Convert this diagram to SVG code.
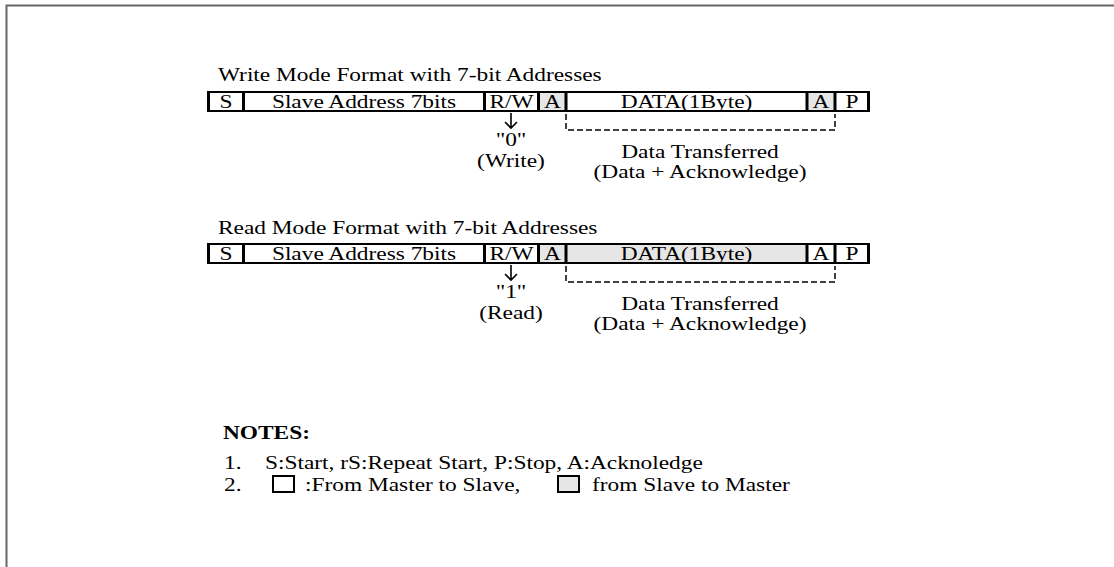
<svg xmlns="http://www.w3.org/2000/svg" width="1114" height="567" viewBox="0 0 1114 567">
<style>
text{font-family:"Liberation Serif","Times New Roman",serif;font-size:19px;fill:#000}
.c{text-anchor:middle}
.f{fill:#fff}
.g{fill:#e6e6e6}
.hl{fill:none;stroke:#000;stroke-width:2}
.vl{fill:none;stroke:#000;stroke-width:3}
.br{fill:none;stroke:#000;stroke-width:1.5;stroke-dasharray:6 3}
.ar{fill:none;stroke:#000;stroke-width:1.6}
.b{font-weight:bold}
</style>
<rect width="1114" height="567" fill="#fff"/>
<path d="M6.5,567 V5.5 H1114" fill="none" stroke="#666" stroke-width="2"/>

<g id="write">
<text transform="translate(218,81) scale(1.23,1)">Write Mode Format with 7-bit Addresses</text>
<g id="w-S"><rect class="f" x="208" y="92" width="35" height="19"/><text class="c" transform="translate(226,108) scale(1.23,1)">S</text></g>
<g id="w-addr"><rect class="f" x="243" y="92" width="241" height="19"/><text class="c" transform="translate(364,108) scale(1.23,1)">Slave Address 7bits</text></g>
<g id="w-rw"><rect class="f" x="484" y="92" width="54" height="19"/><text class="c" transform="translate(511.5,108) scale(1.23,1)">R/W</text></g>
<g id="w-A1"><rect class="g" x="538" y="92" width="28" height="19"/><text class="c" transform="translate(552.5,108) scale(1.23,1)">A</text></g>
<g id="w-data"><rect class="f" x="566" y="92" width="241" height="19"/><text class="c" transform="translate(686.5,108) scale(1.23,1)">DATA(1Byte)</text></g>
<g id="w-A2"><rect class="g" x="807" y="92" width="28" height="19"/><text class="c" transform="translate(821,108) scale(1.23,1)">A</text></g>
<g id="w-P"><rect class="f" x="835" y="92" width="34" height="19"/><text class="c" transform="translate(852,108) scale(1.23,1)">P</text></g>
<path class="hl" d="M207,92 H870 M207,111 H870"/>
<path class="vl" d="M208.5,91 V112 M243.5,91 V112 M484.5,91 V112 M538.5,91 V112 M566,91 V112 M807,91 V112 M835,91 V112 M868.5,91 V112"/>
<text class="c" transform="translate(511,146) scale(1.23,1)">"0"</text>
<text class="c" transform="translate(511,167) scale(1.23,1)">(Write)</text>
<text class="c" transform="translate(700,158) scale(1.23,1)">Data Transferred</text>
<text class="c" transform="translate(700,178) scale(1.23,1)">(Data + Acknowledge)</text>
</g>

<g id="read">
<text transform="translate(218,234) scale(1.23,1)">Read Mode Format with 7-bit Addresses</text>
<g id="r-S"><rect class="f" x="208" y="244" width="35" height="19"/><text class="c" transform="translate(226,260) scale(1.23,1)">S</text></g>
<g id="r-addr"><rect class="f" x="243" y="244" width="241" height="19"/><text class="c" transform="translate(364,260) scale(1.23,1)">Slave Address 7bits</text></g>
<g id="r-rw"><rect class="f" x="484" y="244" width="54" height="19"/><text class="c" transform="translate(511.5,260) scale(1.23,1)">R/W</text></g>
<g id="r-A1"><rect class="g" x="538" y="244" width="28" height="19"/><text class="c" transform="translate(552.5,260) scale(1.23,1)">A</text></g>
<g id="r-data"><rect class="g" x="566" y="244" width="241" height="19"/><text class="c" transform="translate(686.5,260) scale(1.23,1)">DATA(1Byte)</text></g>
<g id="r-A2"><rect class="f" x="807" y="244" width="28" height="19"/><text class="c" transform="translate(821,260) scale(1.23,1)">A</text></g>
<g id="r-P"><rect class="f" x="835" y="244" width="34" height="19"/><text class="c" transform="translate(852,260) scale(1.23,1)">P</text></g>
<path class="hl" d="M207,244 H870 M207,263 H870"/>
<path class="vl" d="M208.5,243 V264 M243.5,243 V264 M484.5,243 V264 M538.5,243 V264 M566,243 V264 M807,243 V264 M835,243 V264 M868.5,243 V264"/>
<text class="c" transform="translate(511,298) scale(1.23,1)">"1"</text>
<text class="c" transform="translate(511,319) scale(1.23,1)">(Read)</text>
<text class="c" transform="translate(700,310) scale(1.23,1)">Data Transferred</text>
<text class="c" transform="translate(700,330) scale(1.23,1)">(Data + Acknowledge)</text>
</g>

<g id="connectors">
<path class="ar" d="M511,113 V128 M505,122 L511,128 L517,122"/>
<path class="br" d="M566,114 V130 H835 V114"/>
<path class="ar" d="M511,265 V280 M505,274 L511,280 L517,274"/>
<path class="br" d="M566,266 V282 H835 V266"/>
</g>

<g id="notes">
<text class="b" transform="translate(223,439) scale(1.23,1)">NOTES:</text>
<text transform="translate(224,469) scale(1.23,1)">1.</text>
<text transform="translate(265,469) scale(1.23,1)">S:Start, rS:Repeat Start, P:Stop, A:Acknoledge</text>
<text transform="translate(224,491) scale(1.23,1)">2.</text>
<rect x="273" y="476" width="21" height="16" fill="#fff" stroke="#000" stroke-width="2"/>
<text transform="translate(305,491) scale(1.23,1)">:From Master to Slave,</text>
<rect x="558" y="476" width="21" height="16" fill="#e6e6e6" stroke="#000" stroke-width="2"/>
<text transform="translate(592,491) scale(1.23,1)">from Slave to Master</text>
</g>
</svg>
